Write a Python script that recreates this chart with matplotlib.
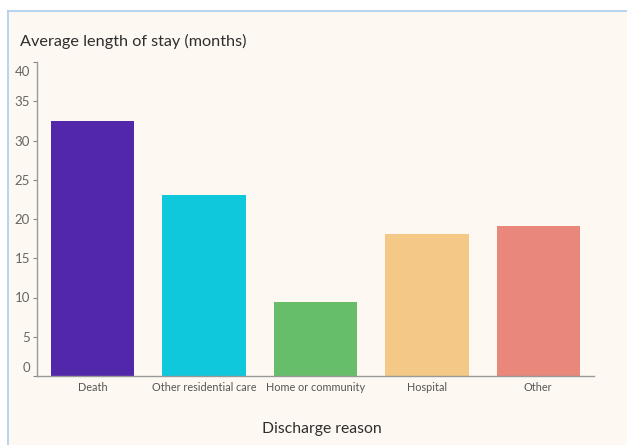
import matplotlib
matplotlib.use("Agg")
import matplotlib.pyplot as plt
import matplotlib.transforms as mtransforms
from matplotlib.patches import Rectangle
from matplotlib.lines import Line2D

categories = ["Death", "Other residential care", "Home or community", "Hospital", "Other"]
values = [32.5, 23.0, 9.4, 18.1, 19.1]
colors = ["#5227AA", "#10C8DC", "#66BE6A", "#F4C886", "#E8877A"]
yticks = [0, 5, 10, 15, 20, 25, 30, 35, 40]

plt.rcParams['font.family'] = ['Lato', 'DejaVu Sans']

W, H = 627, 445
fig = plt.figure(figsize=(W/100, H/100), dpi=100)
fig.patch.set_facecolor("white")

bg = "#FDF8F1"
rect = Rectangle((8/W, 0), 1, 1 - 11/H, transform=fig.transFigure,
                 facecolor=bg, edgecolor="none", zorder=-10)
fig.add_artist(rect)
fig.add_artist(Line2D([8/W, 1], [1 - 11/H, 1 - 11/H], transform=fig.transFigure,
                      color="#A9CCEF", lw=1.2, zorder=-5))
fig.add_artist(Line2D([8/W, 8/W], [0, 1 - 11/H], transform=fig.transFigure,
                      color="#A9CCEF", lw=1.2, zorder=-5))

ax = fig.add_axes([37/W, (H-376)/H, (594-37)/W, (376-62)/H])
ax.set_zorder(5)
ax.set_facecolor("none")
x = list(range(len(categories)))
ax.bar(x, values, width=0.75, color=colors, zorder=2)
ax.set_xlim(-0.5, len(categories) - 0.5)
ax.set_ylim(0, 40)
ax.set_yticks(yticks)
ax.set_yticklabels([str(t) for t in yticks], fontsize=9.5, color="#666666")
ax.set_xticks(x)
ax.set_xticklabels(categories, fontsize=7.8, color="#555555")
ax.tick_params(axis="x", length=0, pad=4)
ax.tick_params(axis="y", length=3, width=0.8, color="#888888", pad=2)
for s in ["top", "right"]:
    ax.spines[s].set_visible(False)
ax.spines["left"].set_color("#999999")
ax.spines["bottom"].set_color("#999999")
ax.spines["left"].set_linewidth(1)
ax.spines["bottom"].set_linewidth(1)

fig.canvas.draw()
for lab, t in zip(ax.get_yticklabels(), yticks):
    if t == 40:
        lab.set_va("top")
        lab.set_transform(lab.get_transform() +
                          mtransforms.ScaledTranslation(0, -4/100, fig.dpi_scale_trans))
    elif t == 0:
        lab.set_va("bottom")
        lab.set_transform(lab.get_transform() +
                          mtransforms.ScaledTranslation(0, 2/100, fig.dpi_scale_trans))

fig.text(20/W, 1 - 41/H, "Average length of stay (months)", fontsize=11.7,
         color="#2E2E2E", va="center", ha="left")
fig.text(322/W, 1 - 429/H, "Discharge reason", fontsize=11.3,
         color="#2E2E2E", va="center", ha="center")

fig.savefig("out.png", dpi=100, facecolor=fig.get_facecolor())
